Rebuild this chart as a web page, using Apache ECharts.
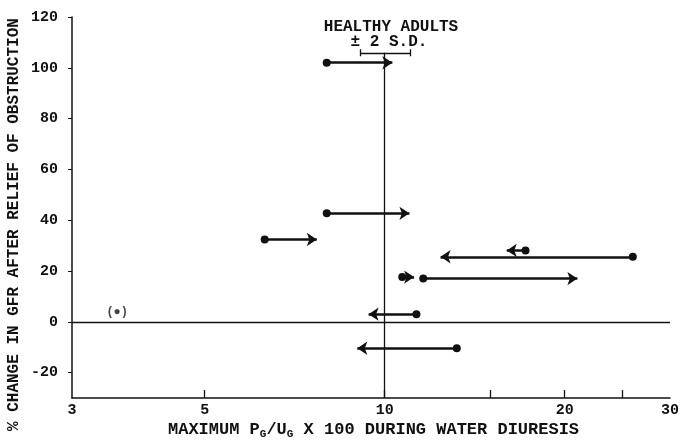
<!DOCTYPE html>
<html><head><meta charset="utf-8">
<script src="https://cdn.jsdelivr.net/npm/echarts@6/dist/echarts.min.js"></script>
<style>html,body{margin:0;padding:0;background:#fff}#c{width:682px;height:440px}</style>
</head><body><div id="c"></div>
<script>
// Arrows: from start (dot) to end (arrowhead)
const startX = [8.0, 8.0, 6.3, 10.7, 11.6, 26.0, 17.2, 11.3, 13.2];
const endX   = [10.3, 11.0, 7.7, 11.2, 21.0, 12.4, 16.0, 9.4, 9.0];
const arrowY = [102, 42.7, 32.4, 17.6, 17.0, 25.6, 28.1, 3.0, -10.4];
// parenthesised isolated point
const isolatedPoint = [3.57, 3.7];
// healthy adults mean and ±2 S.D.
const healthyMean = 10;
const sdLow = 9.1, sdHigh = 11.03, sdY = 105.9;
const xLabelValues = [3, 5, 10, 20, 30];
const xTickValues = [5, 10, 15, 20, 25];
const yLabelValues = [-20, 0, 20, 40, 60, 80, 100, 120];

const FONT = '"Liberation Mono", "DejaVu Sans Mono", monospace';
const INK = '#111';

const arrowData = startX.map((s, i) => ({ coords: [[s, arrowY[i]], [endX[i], arrowY[i]]] }));
const refLines = [
  { coords: [[healthyMean, -30], [healthyMean, sdY]] },
  { coords: [[sdLow, sdY], [sdHigh, sdY]] },
  { coords: [[sdLow, sdY - 1.4], [sdLow, sdY + 1.4]] },
  { coords: [[sdHigh, sdY - 1.4], [sdHigh, sdY + 1.4]] },
  { coords: [[3, 0], [30, 0]] }
];

const chart = echarts.init(document.getElementById('c'));
chart.setOption({
  animation: false,
  backgroundColor: '#fff',
  grid: { left: 72, right: 9, top: 17, bottom: 42 },
  xAxis: {
    type: 'log', logBase: 10, min: 3, max: 30,
    axisLine: { onZero: false, lineStyle: { color: INK, width: 1.5 } },
    axisTick: { show: true, inside: true, length: 8, customValues: xTickValues, lineStyle: { color: INK, width: 1.3 } },
    minorTick: { show: false },
    axisLabel: { customValues: xLabelValues, color: INK, fontFamily: FONT, fontWeight: 'bold', fontSize: 15, margin: 5 },
    splitLine: { show: false }
  },
  yAxis: {
    type: 'value', min: -30, max: 120,
    axisLine: { show: true, lineStyle: { color: INK, width: 1.5 } },
    axisTick: { show: true, length: 4, customValues: yLabelValues, lineStyle: { color: INK } },
    axisLabel: { customValues: yLabelValues, color: INK, fontFamily: FONT, fontWeight: 'bold', fontSize: 15, margin: 14 },
    splitLine: { show: false }
  },
  series: [
    {
      type: 'lines', coordinateSystem: 'cartesian2d', silent: true,
      symbol: ['none', 'none'],
      lineStyle: { color: INK, width: 1.3, opacity: 1 },
      data: refLines
    },
    {
      type: 'lines', coordinateSystem: 'cartesian2d', silent: true,
      symbol: ['circle', 'arrow'], symbolSize: [8, 10],
      lineStyle: { color: INK, width: 2.5, opacity: 1 },
      itemStyle: { color: INK },
      data: arrowData
    },
    {
      type: 'scatter', silent: true, symbolSize: 0,
      data: [isolatedPoint],
      label: { show: true, position: 'inside', formatter: '(\u25CF)', color: INK, fontFamily: FONT, fontWeight: 'bold', fontSize: 12 }
    }
  ],
  graphic: [
    { type: 'text', x: 391, y: 19, style: { text: 'HEALTHY ADULTS', font: 'bold 16px ' + FONT, fill: INK, align: 'center' } },
    { type: 'text', x: 389, y: 34, style: { text: '\u00B1 2 S.D.', font: 'bold 16px ' + FONT, fill: INK, align: 'center' } },
    {
      type: 'text', x: 168, y: 419,
      style: {
        text: 'MAXIMUM P{s|G}/U{s|G} X 100 DURING WATER DIURESIS',
        font: 'bold 17px ' + FONT, fill: INK,
        rich: { s: { font: 'bold 11px ' + FONT, fill: INK, verticalAlign: 'bottom', padding: [10, 0, 0, 0] } }
      }
    },
    {
      type: 'text', rotation: Math.PI / 2, x: 6, y: 431,
      style: { text: '% CHANGE IN GFR AFTER RELIEF OF OBSTRUCTION', font: 'bold 16px ' + FONT, fill: INK }
    }
  ]
});
</script>
</body></html>
